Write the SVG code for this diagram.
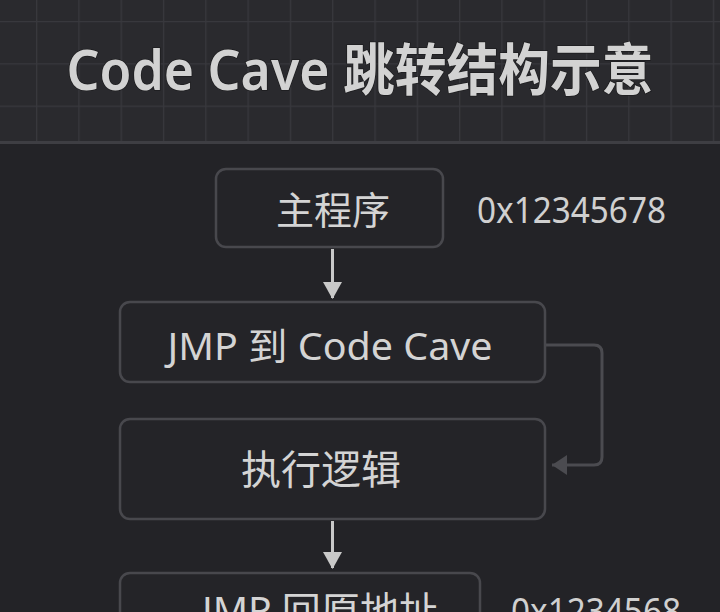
<svg xmlns="http://www.w3.org/2000/svg" width="720" height="612" viewBox="0 0 720 612">
  <defs>
    <pattern id="grid" patternUnits="userSpaceOnUse" x="36" y="21" width="42.3" height="42.3">
      <path d="M0.5,0 V42.3 M0,0.5 H42.3" fill="none" stroke="#38383d" stroke-width="1.5"/>
    </pattern>
    <marker id="ahLight" markerUnits="userSpaceOnUse" markerWidth="20" markerHeight="20" refX="16" refY="10" orient="auto">
      <path d="M0,0.5 L17,10 L0,19.5 Z" fill="#c9c9c9"/>
    </marker>
    <marker id="ahDim" markerUnits="userSpaceOnUse" markerWidth="20" markerHeight="22" refX="15" refY="11" orient="auto">
      <path d="M0,1 L15,11 L0,21 Z" fill="#4b4b50"/>
    </marker>
  </defs>
  <style>
    .box { fill: #242428; stroke: #48484d; stroke-width: 2.5; }
    .lbl { font-family: "Noto Sans", "Noto Sans CJK SC", sans-serif; fill: #d4d4d4; font-size: 38px; }
    .hex { font-family: "Noto Sans", "DejaVu Sans", sans-serif; fill: #d0d0d0; font-size: 36px; }
    .title { font-family: "Noto Sans", "Noto Sans CJK SC", sans-serif; fill: #d2d2d2; font-size: 56px; font-weight: 600; stroke: #1c1c1e; stroke-width: 1.5; paint-order: stroke; }
  </style>

  <rect x="0" y="0" width="720" height="612" fill="#232327"/>
  <g id="header">
    <rect x="0" y="0" width="720" height="142" fill="#2a2a2e"/>
    <rect x="0" y="0" width="720" height="141" fill="url(#grid)"/>
    <rect x="0" y="141" width="720" height="3" fill="#3e3e43"/>
    <text class="title" x="360" y="90" text-anchor="middle" textLength="587" lengthAdjust="spacingAndGlyphs">Code Cave 跳转结构示意</text>
  </g>

  <g id="connectors" fill="none">
    <line x1="332.5" y1="249" x2="332.5" y2="298" stroke="#c9c9c9" stroke-width="3" marker-end="url(#ahLight)"/>
    <line x1="332.5" y1="521" x2="332.5" y2="568" stroke="#c9c9c9" stroke-width="3" marker-end="url(#ahLight)"/>
    <path d="M546,345 H594 Q602,345 602,353 V457 Q602,465 594,465 H552" stroke="#4b4b50" stroke-width="3" marker-end="url(#ahDim)"/>
  </g>

  <g id="node-main">
    <rect class="box" x="216" y="169" width="227" height="78" rx="10"/>
    <text class="lbl" x="333" y="224" text-anchor="middle">主程序</text>
  </g>
  <g id="addr-1">
    <text class="hex" x="477" y="223" textLength="189" lengthAdjust="spacingAndGlyphs">0x12345678</text>
  </g>

  <g id="node-jmp">
    <rect class="box" x="120" y="302" width="425" height="80" rx="10"/>
    <text class="lbl" x="330" y="360" text-anchor="middle" textLength="325" lengthAdjust="spacingAndGlyphs">JMP 到 Code Cave</text>
  </g>

  <g id="node-exec">
    <rect class="box" x="120" y="419" width="425" height="100" rx="10"/>
    <text class="lbl" x="321" y="484" text-anchor="middle" style="font-size:40px">执行逻辑</text>
  </g>

  <g id="node-back">
    <rect class="box" x="120" y="573" width="360" height="80" rx="10"/>
    <text class="lbl" x="320" y="624" text-anchor="middle" textLength="236" lengthAdjust="spacingAndGlyphs">JMP 回原地址</text>
  </g>
  <g id="addr-2">
    <text class="hex" x="511" y="624" textLength="170" lengthAdjust="spacingAndGlyphs">0x1234568</text>
  </g>
</svg>
